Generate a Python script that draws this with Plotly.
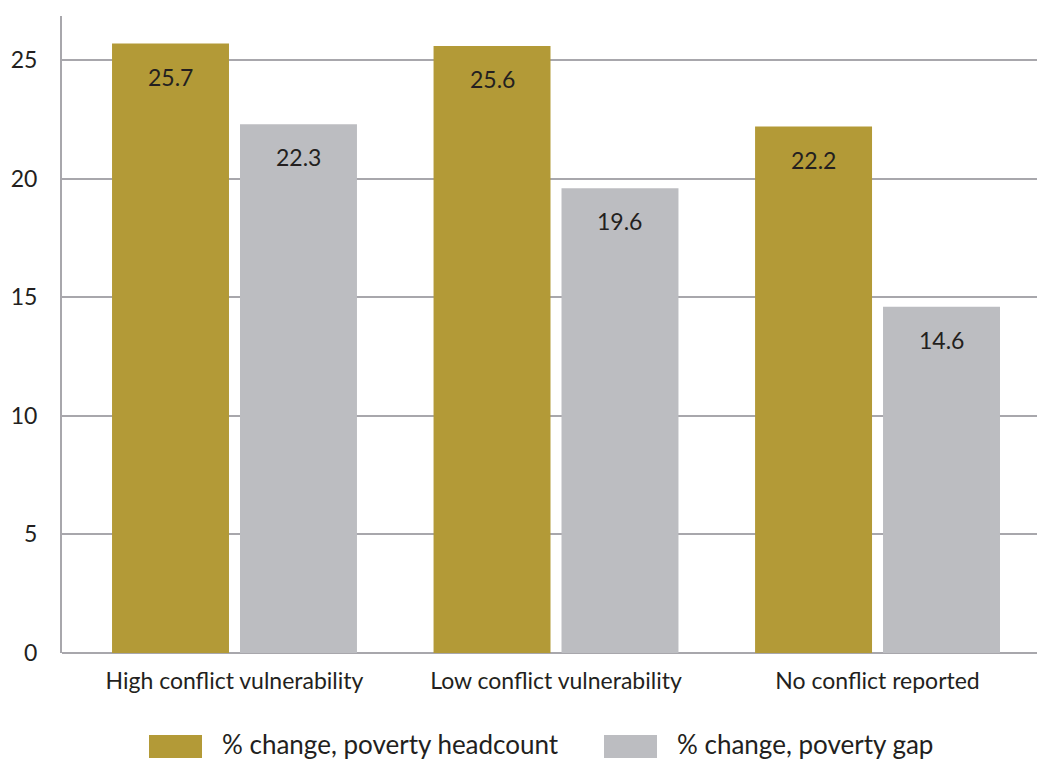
import plotly.graph_objects as go

# Poverty impact by conflict exposure
categories = ["High conflict vulnerability", "Low conflict vulnerability", "No conflict reported"]
headcount_change = [25.7, 25.6, 22.2]
gap_change = [22.3, 19.6, 14.6]
series_names = ["% change, poverty headcount", "% change, poverty gap"]
y_ticks = [0, 5, 10, 15, 20, 25]

GOLD = "#b39a37"
GREY = "#bcbdc1"
TEXT = "#231f20"
GRID = "#a8a7ac"
FONT = "Lato, Open Sans, sans-serif"

BARGAP = 0.204
GROUPGAP = 0.086

W, H = 1037, 760
L, R, T, B = 62, 0, 16, 107

fig = go.Figure()
for name, vals, color in [(series_names[0], headcount_change, GOLD),
                          (series_names[1], gap_change, GREY)]:
    fig.add_trace(go.Bar(x=list(range(len(categories))), y=vals, name=name,
                         marker=dict(color=color, line=dict(width=0)),
                         showlegend=False, hoverinfo="x+y"))

# value labels just inside the top of each bar
half = (1 - BARGAP) / 4
for k, vals in enumerate([headcount_change, gap_change]):
    sign = -1 if k == 0 else 1
    for i, v in enumerate(vals):
        fig.add_annotation(x=i + sign * half, y=v, xref="x", yref="y",
                           text=f"{v:.1f}", showarrow=False, yanchor="top",
                           yshift=-17, font=dict(family=FONT, size=23, color=TEXT))

# legend drawn as wide swatches below the axis
pw = W - L - R
ph = H - T - B
def px(x):
    return (x - L) / pw
def py(y):
    return (H - B - y) / ph

legend_items = [(series_names[0], GOLD, 149), (series_names[1], GREY, 604)]
for name, color, x0 in legend_items:
    fig.add_shape(type="rect", xref="paper", yref="paper",
                  x0=px(x0), x1=px(x0 + 53), y0=py(735), y1=py(758),
                  fillcolor=color, line=dict(width=0))
    fig.add_annotation(xref="paper", yref="paper", x=px(x0 + 71), y=py(744),
                       text=name, showarrow=False, xanchor="left", yanchor="middle",
                       font=dict(family=FONT, size=26, color=TEXT))

fig.update_layout(
    width=W, height=H,
    margin=dict(l=L, r=R, t=T, b=B, pad=0),
    paper_bgcolor="white", plot_bgcolor="white",
    barmode="group", bargap=BARGAP, bargroupgap=GROUPGAP,
    font=dict(family=FONT, color=TEXT),
    xaxis=dict(range=[-0.5365, 2.496], tickmode="array",
               tickvals=list(range(len(categories))), ticktext=categories,
               showgrid=False, zeroline=False, showline=False, ticks="",
               ticklabelstandoff=12,
               tickfont=dict(family=FONT, size=23, color=TEXT)),
    yaxis=dict(range=[0, 26.86], tickvals=y_ticks, showgrid=True,
               gridcolor=GRID, gridwidth=2, zeroline=True, zerolinecolor=GRID,
               zerolinewidth=2, showline=True, linecolor=GRID, linewidth=2,
               ticks="", ticklabelstandoff=18,
               tickfont=dict(family=FONT, size=23, color=TEXT)),
)

fig.write_html("out.html")
